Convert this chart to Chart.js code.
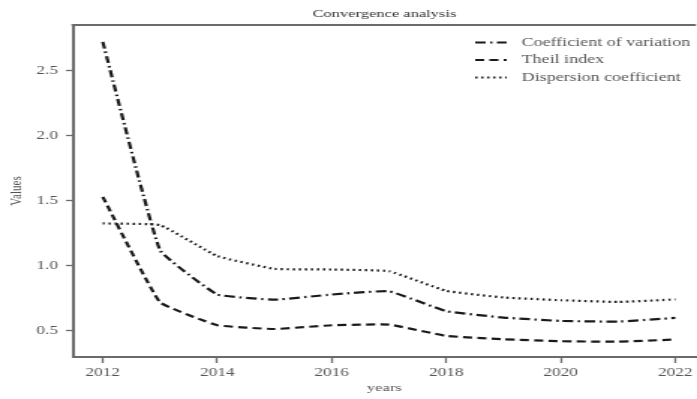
<!DOCTYPE html>
<html>
<head>
<meta charset="utf-8">
<script src="https://cdn.jsdelivr.net/npm/chart.js@4.4.1/dist/chart.umd.min.js"></script>
<style>
  html, body { margin: 0; padding: 0; background: #fff; overflow: hidden; }
  /* la figura original está estirada en horizontal, así que dibujamos angosto y estiramos */
  #grafico { display: block; width: 697px; height: 399px; }
</style>
</head>
<body>
<canvas id="grafico" width="465" height="399" style="width:697px;height:399px"></canvas>
<script>
// Datos
const years = [2012, 2013, 2014, 2015, 2016, 2017, 2018, 2019, 2020, 2021, 2022];
const coefVariacion = [2.72, 1.12, 0.78, 0.74, 0.78, 0.805, 0.652, 0.603, 0.577, 0.572, 0.60];
const theilIndex = [1.53, 0.72, 0.544, 0.515, 0.544, 0.549, 0.462, 0.436, 0.421, 0.418, 0.434];
const dispersion = [1.326, 1.313, 1.075, 0.977, 0.972, 0.959, 0.808, 0.757, 0.736, 0.723, 0.742];
const xTicks = [2012, 2014, 2016, 2018, 2020, 2022];
const yTicks = [0.5, 1.0, 1.5, 2.0, 2.5];
const chartTitle = 'Convergence analysis';

const serif = "'Liberation Serif', 'DejaVu Serif', serif";
const axisColor = '#6b6b6b';
const textColor = '#555';

function toPoints(values) {
  return years.map((y, i) => ({ x: y, y: values[i] }));
}

// Marco superior y título centrado sobre el área del gráfico
const topBorder = {
  id: 'topBorder',
  afterDraw(chart) {
    const { ctx, chartArea } = chart;
    ctx.save();
    ctx.strokeStyle = axisColor;
    ctx.lineWidth = 2;
    ctx.beginPath();
    ctx.moveTo(chartArea.left - 1, chartArea.top);
    ctx.lineTo(chartArea.right, chartArea.top);
    ctx.stroke();
    ctx.font = '11px ' + serif;
    ctx.fillStyle = '#333';
    ctx.textAlign = 'center';
    ctx.textBaseline = 'middle';
    ctx.fillText(chartTitle, (chartArea.left + chartArea.right) / 2, 14);
    ctx.restore();
  }
};

// Leyenda dibujada a mano con los estilos de línea
const customLegend = {
  id: 'customLegend',
  afterDraw(chart) {
    const { ctx } = chart;
    ctx.save();
    ctx.font = '12px ' + serif;
    ctx.textBaseline = 'middle';
    chart.data.datasets.forEach((ds, i) => {
      const y = 42.5 + i * 17.5;
      ctx.strokeStyle = ds.borderColor;
      ctx.lineWidth = ds.borderWidth;
      ctx.setLineDash(ds.borderDash);
      ctx.beginPath();
      ctx.moveTo(317, y);
      ctx.lineTo(338, y);
      ctx.stroke();
      ctx.setLineDash([]);
      ctx.fillStyle = textColor;
      ctx.fillText(ds.label, 348, y);
    });
    ctx.restore();
  }
};

const chart = new Chart(document.getElementById('grafico').getContext('2d'), {
  type: 'line',
  data: {
    datasets: [
      {
        label: 'Coefficient of variation',
        data: toPoints(coefVariacion),
        borderColor: '#1a1a1a',
        borderWidth: 2.2,
        borderDash: [7, 3, 1.5, 3],
        pointRadius: 0,
        tension: 0.1,
        fill: false
      },
      {
        label: 'Theil index',
        data: toPoints(theilIndex),
        borderColor: '#1a1a1a',
        borderWidth: 2.2,
        borderDash: [6, 3.5],
        pointRadius: 0,
        tension: 0.1,
        fill: false
      },
      {
        label: 'Dispersion coefficient',
        data: toPoints(dispersion),
        borderColor: '#1a1a1a',
        borderWidth: 2.2,
        borderDash: [1.5, 2.5],
        pointRadius: 0,
        tension: 0.1,
        fill: false
      }
    ]
  },
  options: {
    responsive: false,
    animation: false,
    layout: { padding: { top: 25, left: 0, right: 0, bottom: 0 } },
    plugins: {
      legend: { display: false },
      tooltip: { enabled: false },
      title: { display: false }
    },
    scales: {
      x: {
        type: 'linear',
        min: 2011.48,
        max: 2022.36,
        afterBuildTicks: scale => { scale.ticks = xTicks.map(v => ({ value: v })); },
        afterFit: scale => { scale.height = 42; },
        grid: { drawOnChartArea: false, color: axisColor, tickLength: 6, tickWidth: 1.3 },
        border: { color: axisColor, width: 2 },
        ticks: { color: textColor, font: { family: serif, size: 11.5 }, padding: 3, maxRotation: 0, callback: v => String(v) },
        title: { display: true, text: 'years', color: textColor, font: { family: serif, size: 11 }, padding: { top: 0, bottom: 4.4 } }
      },
      y: {
        min: 0.3,
        max: 2.85,
        afterBuildTicks: scale => { scale.ticks = yTicks.map(v => ({ value: v })); },
        afterFit: scale => { scale.width = 48.7; },
        grid: { drawOnChartArea: false, color: axisColor, tickLength: 4.7, tickWidth: 1.3 },
        border: { color: axisColor, width: 2 },
        ticks: { color: textColor, font: { family: serif, size: 11.5 }, padding: 5.3, callback: v => v.toFixed(1) },
        title: { display: true, text: 'Values', color: textColor, font: { family: serif, size: 11 }, padding: { top: 4.4, bottom: 0 } }
      }
    }
  },
  plugins: [topBorder, customLegend]
});
</script>
</body>
</html>
